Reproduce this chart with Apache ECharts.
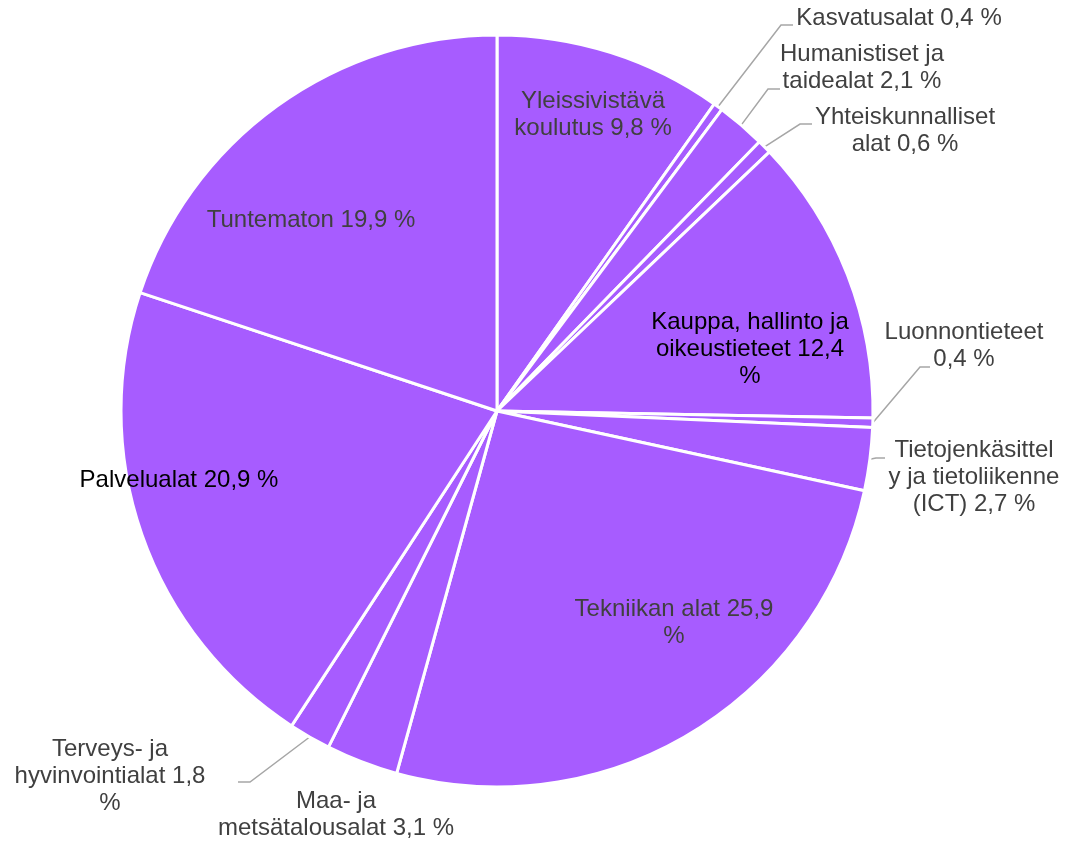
<!DOCTYPE html>
<html>
<head>
<meta charset="utf-8">
<script src="https://cdn.jsdelivr.net/npm/echarts@6/dist/echarts.min.js"></script>
<style>
  html, body { margin: 0; padding: 0; background: #fff; }
  #chart { width: 1081px; height: 842px; }
</style>
</head>
<body>
<div id="chart"></div>
<script>
// data
var categories = ['Yleissivistävä koulutus', 'Kasvatusalat', 'Humanistiset ja taidealat', 'Yhteiskunnalliset alat',
	'Kauppa, hallinto ja oikeustieteet', 'Luonnontieteet', 'Tietojenkäsittely ja tietoliikenne (ICT)', 'Tekniikan alat',
	'Maa- ja metsätalousalat', 'Terveys- ja hyvinvointialat', 'Palvelualat', 'Tuntematon'];
var values = [9.8, 0.4, 2.1, 0.6, 12.4, 0.4, 2.7, 25.9, 3.1, 1.8, 20.9, 19.9];

// label text with the line breaks used in the picture, {v} = value
var labelTemplates = [
	'Yleissivistävä\nkoulutus {v} %', 'Kasvatusalat {v} %', 'Humanistiset ja\ntaidealat {v} %', 'Yhteiskunnalliset\nalat {v} %',
	'Kauppa, hallinto ja\noikeustieteet {v}\n%', 'Luonnontieteet\n{v} %', 'Tietojenkäsittel\ny ja tietoliikenne\n(ICT) {v} %', 'Tekniikan alat {v}\n%',
	'Maa- ja\nmetsätalousalat {v} %', 'Terveys- ja\nhyvinvointialat {v}\n%', 'Palvelualat {v} %', 'Tuntematon {v} %'
];

// label layout (centres) and leader line elbows, null = no leader line
var labelPos = [[593, 115], [899, 18], [862, 68], [905, 131], [750, 349], [964, 346],
	[974, 477], [674, 623], [336, 815], [110, 776], [179, 480], [311, 220]];
var leaderElbow = [null, [[781, 25], [793, 25]], [[768, 89], [780, 89]], [[800, 124], [812, 124]], null,
	[[920, 367], [930, 367]], [[876, 458], [885, 458]], null, null, [[250, 782], [238, 782]], null, null];
var darkLabels = [4, 10];

var chart = echarts.init(document.getElementById('chart'));

var pieData = categories.map(function (name, i) {
	var item = { name: name, value: values[i] };
	var hasLine = !!leaderElbow[i];
	item.label = {
		position: hasLine ? 'outside' : 'inside',
		color: darkLabels.indexOf(i) >= 0 ? '#000000' : '#404040'
	};
	item.labelLine = { show: hasLine };
	return item;
});

chart.setOption({
	animation: false,
	series: [
		{
			type: 'pie',
			center: [497, 411],
			radius: 376,
			startAngle: 90,
			clockwise: true,
			avoidLabelOverlap: false,
			itemStyle: {
				color: '#A75CFF',
				borderColor: '#ffffff',
				borderWidth: 3
			},
			label: {
				fontFamily: 'Liberation Sans, Arial, sans-serif',
				fontSize: 24,
				lineHeight: 27,
				align: 'center',
				formatter: function (p) {
					return labelTemplates[p.dataIndex].replace('{v}', String(p.value).replace('.', ','));
				}
			},
			labelLine: {
				lineStyle: { color: '#A6A6A6', width: 1.5 },
				smooth: false
			},
			emphasis: { disabled: true },
			labelLayout: function (params) {
				var i = params.dataIndex;
				var out = {
					x: labelPos[i][0],
					y: labelPos[i][1],
					align: 'center',
					verticalAlign: 'middle'
				};
				if (leaderElbow[i] && params.labelLinePoints) {
					out.labelLinePoints = [params.labelLinePoints[0], leaderElbow[i][0], leaderElbow[i][1]];
				}
				return out;
			},
			data: pieData
		}
	]
});
</script>
</body>
</html>
